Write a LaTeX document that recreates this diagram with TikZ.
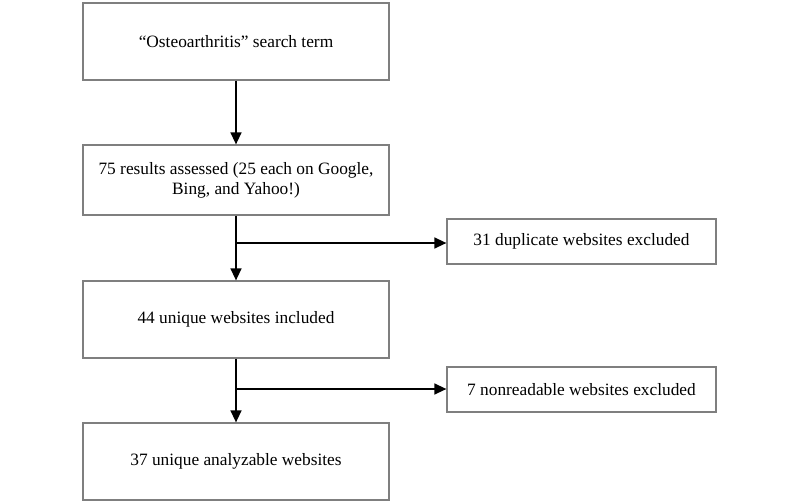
\documentclass[tikz,border=0pt]{standalone}
\usepackage{fontspec}
\setmainfont{Liberation Serif}
\usetikzlibrary{arrows.meta, positioning}

\begin{document}
\begin{tikzpicture}[x=0.75pt, y=-0.75pt,
    box/.style={draw=borderColour, line width=0.8pt, fill=white, inner sep=0pt,
        align=center, font=\fontsize{13}{15}\selectfont},
    mainbox/.style={box, minimum width=229.5pt, minimum height=57.75pt},
    sidebox/.style={box, minimum width=201.75pt, minimum height=33.75pt},
    flow/.style={line width=1.6pt, -{Triangle[length=9pt, width=8pt]}}]

    \definecolor{borderColour}{HTML}{7F7F7F}

    % Fix the page size
    \useasboundingbox (0,0) rectangle (800,503);

    % Main column
    \node[mainbox] (search) at (236,41.5) {``Osteoarthritis'' search term};
    \node[mainbox, minimum height=52.5pt] (assessed) at (236,180)
        {75 results assessed (25 each on Google,\\ Bing, and Yahoo!)};
    \node[mainbox] (included) at (236,319.5) {44 unique websites included};
    \node[mainbox] (analyzable) at (236,461.5) {37 unique analyzable websites};

    % Exclusion boxes
    \node[sidebox] (duplicate) at (581.5,241.5) {31 duplicate websites excluded};
    \node[sidebox] (nonreadable) at (581.5,389.5) {7 nonreadable websites excluded};

    % Branch points
    \coordinate (splitA) at (236,243);
    \coordinate (splitB) at (236,389);

    % Draw arrows
    \draw[flow] (search) -- (assessed);
    \draw[flow] (assessed) -- (included);
    \draw[flow] (included) -- (analyzable);
    \draw[flow] (splitA) -- (splitA -| duplicate.west);
    \draw[flow] (splitB) -- (splitB -| nonreadable.west);

\end{tikzpicture}
\end{document}
